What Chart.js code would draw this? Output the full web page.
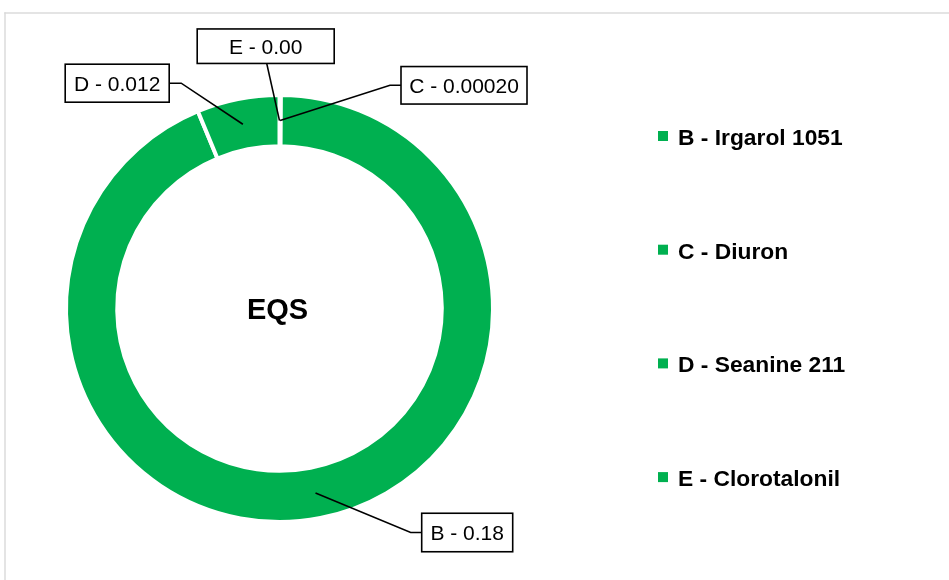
<!DOCTYPE html>
<html><head><meta charset="utf-8">
<script src="https://cdn.jsdelivr.net/npm/chart.js@4"></script>
<style>html,body{margin:0;padding:0;background:#fff;} #wrap{position:relative;width:949px;height:580px;}</style>
</head><body><div id="wrap"><canvas id="c" width="949" height="580"></canvas></div>
<script>
// ---- data (slice order as drawn, clockwise from 12 o'clock) ----
const categories = ['C - Diuron', 'B - Irgarol 1051', 'D - Seanine 211', 'E - Clorotalonil'];
const values = [0.0002, 0.18, 0.012, 0];
const valueLabels = ['C - 0.00020', 'B - 0.18', 'D - 0.012', 'E - 0.00'];
const legendOrder = [1, 0, 2, 3];
const centerTitle = 'EQS';

// ---- styling / placement ----
const sliceColor = '#00B050';
const FONT = '"Liberation Sans", Arial, sans-serif';
const calloutPlacement = [
  {dx: 184.5, dy: -223.2, w: 126, h: 37.5, side: 'left'},
  {dx: 187.7, dy: 224, w: 91, h: 38.5, side: 'left'},
  {dx: -162.3, dy: -225.3, w: 104, h: 38, side: 'right'},
  {dx: -13.8, dy: -262.3, w: 137, h: 34.5, side: 'bottom'}
];

const framePlugin = {
  id: 'frame',
  beforeDraw(chart) {
    const ctx = chart.ctx;
    ctx.save();
    ctx.fillStyle = '#d9d9d9';
    ctx.fillRect(4.3, 12.3, 1.4, 600);
    ctx.fillRect(4.3, 12.3, 1000, 1.4);
    ctx.restore();
  }
};

const calloutPlugin = {
  id: 'callouts',
  afterDraw(chart) {
    const ctx = chart.ctx;
    const meta = chart.getDatasetMeta(0);
    ctx.save();
    let cx = 0, cy = 0;
    meta.data.forEach((arc, i) => {
      const p = arc.getProps(['x', 'y', 'startAngle', 'endAngle', 'innerRadius', 'outerRadius'], true);
      cx = p.x; cy = p.y;
      const a = (p.startAngle + p.endAngle) / 2;
      const r = (p.innerRadius + p.outerRadius) / 2;
      const ax = p.x + Math.cos(a) * r, ay = p.y + Math.sin(a) * r;
      const pl = calloutPlacement[i];
      const bx = p.x + pl.dx, by = p.y + pl.dy;
      const left = bx - pl.w / 2, top = by - pl.h / 2;
      ctx.strokeStyle = '#000';
      ctx.lineWidth = 1.6;
      ctx.beginPath();
      ctx.moveTo(ax, ay);
      if (pl.side === 'left') { ctx.lineTo(left - 11, by); ctx.lineTo(left, by); }
      else if (pl.side === 'right') { ctx.lineTo(left + pl.w + 12, by); ctx.lineTo(left + pl.w, by); }
      else { ctx.lineTo(bx + 1, top + pl.h); }
      ctx.stroke();
      ctx.fillStyle = '#fff';
      ctx.fillRect(left, top, pl.w, pl.h);
      ctx.lineWidth = 1.6;
      ctx.strokeRect(left, top, pl.w, pl.h);
      ctx.fillStyle = '#000';
      ctx.font = '21px ' + FONT;
      ctx.textAlign = 'center';
      ctx.textBaseline = 'alphabetic';
      ctx.fillText(valueLabels[i], bx, by + 7.8);
    });
    // centre title
    ctx.font = 'bold 29px ' + FONT;
    ctx.textAlign = 'center';
    ctx.fillStyle = '#000';
    ctx.fillText(centerTitle, cx - 2, cy + 10);
    // legend
    ctx.textAlign = 'left';
    ctx.font = 'bold 22.8px ' + FONT;
    legendOrder.forEach((idx, k) => {
      const y = 136 + k * 113.7;
      ctx.fillStyle = sliceColor;
      ctx.fillRect(658, y - 5, 10, 10);
      ctx.fillStyle = '#000';
      ctx.fillText(categories[idx], 678, y + 8.8);
    });
    ctx.restore();
  }
};

new Chart(document.getElementById('c'), {
  type: 'doughnut',
  data: {
    labels: categories,
    datasets: [{
      data: values,
      backgroundColor: categories.map(() => sliceColor),
      borderColor: '#ffffff',
      borderWidth: 4,
      hoverOffset: 0
    }]
  },
  options: {
    responsive: false,
    animation: false,
    devicePixelRatio: 1,
    cutout: 160,
    radius: 213.5,
    layout: {padding: {left: 67, right: 457, top: 96, bottom: 59}},
    plugins: {legend: {display: false}, tooltip: {enabled: false}}
  },
  plugins: [framePlugin, calloutPlugin]
});
</script></body></html>
